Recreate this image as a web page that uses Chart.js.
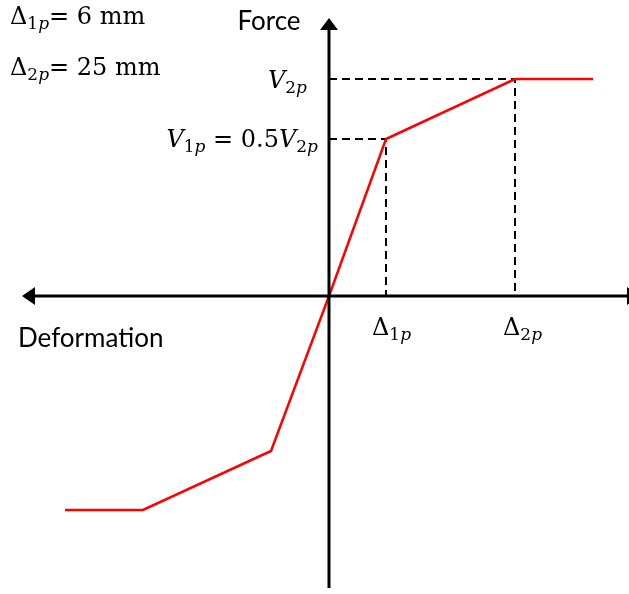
<!DOCTYPE html>
<html>
<head>
<meta charset="utf-8">
<script src="https://cdn.jsdelivr.net/npm/chart.js@4"></script>
<style>
  body { margin: 0; background: #fff; }
  #wrap { width: 629px; height: 594px; }
</style>
</head>
<body>
<div id="wrap"><canvas id="chart" width="629" height="594"></canvas></div>
<script>
// Backbone curve (schematic units, origin at the axis crossing)
const deformation = [-264, -186, -58, 0, 57, 186, 264];
const force = [-214, -214, -155, 0, 157, 217, 217];

// Characteristic points
const delta1p = 57;
const delta2p = 186;
const v1p = 157;
const v2p = 217;

// Axis extents
const xAxisRange = [-307, 311];
const yAxisRange = [-292, 278];

const SERIF = '"DejaVu Serif", serif';
const SANS = 'Lato, "Open Sans", sans-serif';

function drawRich(ctx, x, y, parts, size, align) {
    const sub = Math.round(size * 0.7);
    const fontOf = p => (p.it ? 'italic ' : '') + (p.sub ? sub : size) + 'px ' + SERIF;
    let width = 0;
    parts.forEach(p => { ctx.font = fontOf(p); width += ctx.measureText(p.t).width; });
    let cx = align === 'right' ? x - width : x;
    ctx.textAlign = 'left';
    ctx.textBaseline = 'alphabetic';
    parts.forEach(p => {
        ctx.font = fontOf(p);
        ctx.fillText(p.t, cx, y + (p.sub ? size * 0.22 : 0));
        cx += ctx.measureText(p.t).width;
    });
}

const delta = (n) => [{ t: 'Δ' }, { t: n, sub: true }, { t: 'p', sub: true, it: true }];
const vee = (n) => [{ t: 'V', it: true }, { t: n, sub: true }, { t: 'p', sub: true, it: true }];

const axesPlugin = {
    id: 'axes',
    afterDatasetsDraw(chart) {
        const { ctx, scales: { x, y } } = chart;
        const x0 = x.getPixelForValue(0), y0 = y.getPixelForValue(0);
        const left = x.getPixelForValue(xAxisRange[0]), right = x.getPixelForValue(xAxisRange[1]);
        const top = y.getPixelForValue(yAxisRange[1]), bottom = y.getPixelForValue(yAxisRange[0]);
        ctx.save();
        ctx.strokeStyle = '#000';
        ctx.fillStyle = '#000';
        ctx.lineWidth = 3;
        ctx.beginPath();
        ctx.moveTo(left + 8, y0); ctx.lineTo(right - 8, y0);
        ctx.moveTo(x0, top + 8); ctx.lineTo(x0, bottom);
        ctx.stroke();
        // arrow heads
        ctx.beginPath();
        ctx.moveTo(left, y0); ctx.lineTo(left + 13, y0 - 9); ctx.lineTo(left + 13, y0 + 9); ctx.closePath();
        ctx.moveTo(right, y0); ctx.lineTo(right - 13, y0 - 9); ctx.lineTo(right - 13, y0 + 9); ctx.closePath();
        ctx.moveTo(x0, top); ctx.lineTo(x0 - 9, top + 12); ctx.lineTo(x0 + 9, top + 12); ctx.closePath();
        ctx.fill();
        ctx.restore();
    },
    afterDraw(chart) {
        const { ctx, scales: { x, y } } = chart;
        const x0 = x.getPixelForValue(0), y0 = y.getPixelForValue(0);
        ctx.save();
        ctx.fillStyle = '#000';
        drawRich(ctx, 10, 24, delta('1').concat([{ t: '= 6 mm' }]), 24, 'left');
        drawRich(ctx, 10, 75, delta('2').concat([{ t: '= 25 mm' }]), 24, 'left');
        drawRich(ctx, x0 - 22, y.getPixelForValue(v2p) + 9, vee('2'), 24, 'right');
        drawRich(ctx, x0 - 11, y.getPixelForValue(v1p) + 8,
            vee('1').concat([{ t: ' = 0.5' }], vee('2')), 24, 'right');
        drawRich(ctx, x.getPixelForValue(delta1p) - 14, y0 + 39, delta('1'), 24, 'left');
        drawRich(ctx, x.getPixelForValue(delta2p) - 12, y0 + 39, delta('2'), 24, 'left');
        ctx.font = '26px ' + SANS;
        ctx.textAlign = 'center';
        ctx.fillText('Force', x0 - 60, 30);
        ctx.textAlign = 'left';
        ctx.fillText('Deformation', 18, 347);
        ctx.restore();
    }
};

const guide = (pts) => ({
    data: pts,
    showLine: true,
    borderColor: '#000',
    borderWidth: 2,
    borderDash: [8, 5],
    pointRadius: 0,
    clip: false
});

new Chart(document.getElementById('chart'), {
    type: 'scatter',
    data: {
        datasets: [
            {
                data: deformation.map((d, i) => ({ x: d, y: force[i] })),
                showLine: true,
                borderColor: '#ff0000',
                borderWidth: 2.5,
                pointRadius: 0,
                clip: false,
                order: 0
            },
            Object.assign(guide([{ x: 0, y: v1p }, { x: delta1p, y: v1p }, { x: delta1p, y: 0 }]), { order: 1 }),
            Object.assign(guide([{ x: 0, y: v2p }, { x: delta2p, y: v2p }, { x: delta2p, y: 0 }]), { order: 1 })
        ]
    },
    options: {
        responsive: false,
        animation: false,
        layout: { padding: 0 },
        plugins: { legend: { display: false }, tooltip: { enabled: false } },
        scales: {
            x: { type: 'linear', min: -329, max: 300, display: false },
            y: { type: 'linear', min: -298, max: 296, display: false }
        }
    },
    plugins: [axesPlugin]
});
</script>
</body>
</html>
